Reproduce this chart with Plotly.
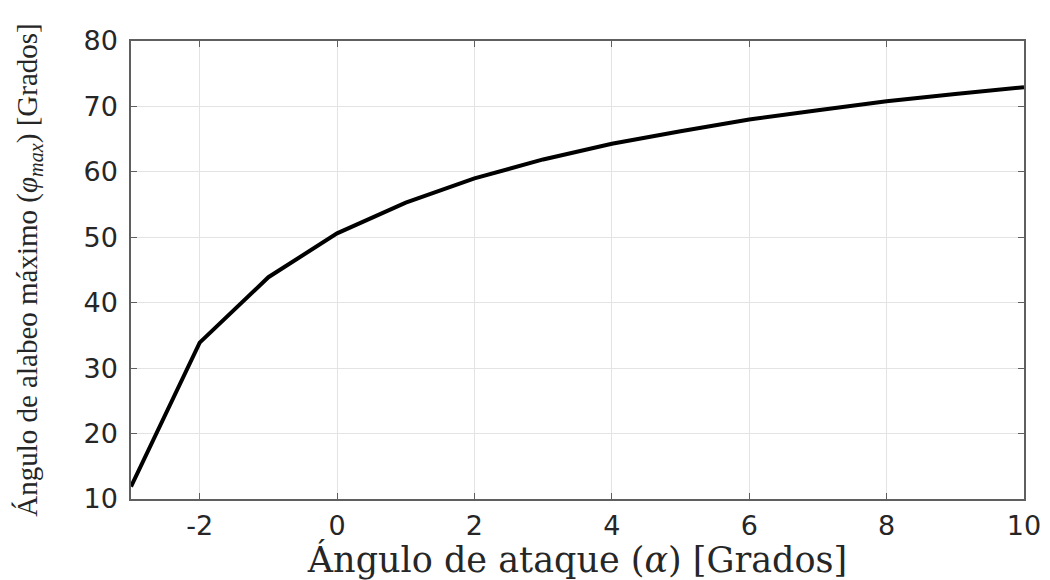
import plotly.graph_objects as go

alpha = [-3, -2, -1, 0, 1, 2, 3, 4, 5, 6, 7, 8, 9, 10]
phi_max = [11.9, 33.9, 43.9, 50.6, 55.3, 59.0, 61.9, 64.3, 66.2, 68.0, 69.4, 70.8, 71.9, 72.95]

x_ticks = [-2, 0, 2, 4, 6, 8, 10]
y_ticks = [10, 20, 30, 40, 50, 60, 70, 80]

fig = go.Figure()
fig.add_trace(go.Scatter(
    x=alpha, y=phi_max, mode="lines",
    line=dict(color="black", width=4),
    showlegend=False,
))

axis_common = dict(
    showline=True, linecolor="#5f5f5f", linewidth=1.5,
    mirror="ticks", ticks="inside", ticklen=6, tickcolor="#5f5f5f", tickwidth=1.2,
    showgrid=True, gridcolor="#e3e3e3", gridwidth=1.2,
    zeroline=False, automargin=False,
    tickfont=dict(family="DejaVu Sans", size=27, color="#262626"),
)

fig.update_layout(
    width=1050, height=580,
    paper_bgcolor="white", plot_bgcolor="white",
    margin=dict(l=131, r=26, t=41, b=81),
    xaxis=dict(
        range=[-3, 10], tickvals=x_ticks, ticktext=[str(v) for v in x_ticks],
        ticklabelstandoff=2,
        title=dict(text="Ángulo de ataque (<i>α</i>) [Grados]",
                   font=dict(family="DejaVu Serif", size=35, color="#262626"),
                   standoff=2),
        **axis_common,
    ),
    yaxis=dict(
        range=[10, 80], tickvals=y_ticks, ticktext=[str(v) for v in y_ticks],
        ticklabelstandoff=6,
        title=dict(text="Ángulo de alabeo máximo (<i>φ<sub>max</sub></i>) [Grados]",
                   font=dict(family="Liberation Serif", size=29, color="#262626"),
                   standoff=37),
        **axis_common,
    ),
)

fig.write_html("out.html", config={"displayModeBar": False},
               post_script="document.body.style.margin='0';")
